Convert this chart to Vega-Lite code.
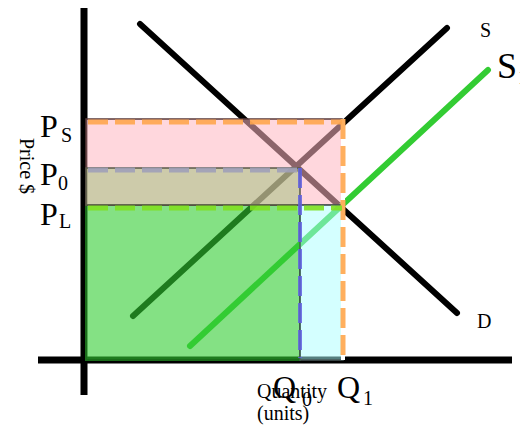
{
  "$schema": "https://vega.github.io/schema/vega-lite/v6.json",
  "width": 520,
  "height": 430,
  "padding": 0,
  "autosize": {"type": "fit", "contains": "padding"},
  "config": {"view": {"stroke": null}, "font": "Liberation Serif"},
  "layer": [
    {
      "data": {"values": [
        {"q": 84, "p": 422, "q2": 84, "p2": 35},
        {"q": 38, "p": 70, "q2": 512, "p2": 70}
      ]},
      "mark": {"type": "rule", "strokeWidth": 7, "color": "black"},
      "encoding": {
        "x": {"field": "q", "type": "quantitative", "scale": {"domain": [0, 520], "nice": false, "zero": false}, "axis": null},
        "x2": {"field": "q2"},
        "y": {"field": "p", "type": "quantitative", "scale": {"domain": [0, 430], "nice": false, "zero": false}, "axis": null},
        "y2": {"field": "p2"}
      }
    },
    {
      "data": {"values": [
        {"curve": "S", "q": 133, "p": 114, "q2": 447, "p2": 402},
        {"curve": "D", "q": 140, "p": 406, "q2": 457, "p2": 117}
      ]},
      "mark": {"type": "rule", "strokeWidth": 6, "color": "black", "strokeCap": "round"},
      "encoding": {
        "x": {"field": "q", "type": "quantitative"},
        "x2": {"field": "q2"},
        "y": {"field": "p", "type": "quantitative"},
        "y2": {"field": "p2"}
      }
    },
    {
      "data": {"values": [{"q": 86, "q2": 300, "p": 225, "p2": 70}]},
      "mark": {"type": "rect", "fill": "#32CD32", "fillOpacity": 0.6, "stroke": "#1a6b1a", "strokeWidth": 2},
      "encoding": {
        "x": {"field": "q", "type": "quantitative"},
        "x2": {"field": "q2"},
        "y": {"field": "p", "type": "quantitative"},
        "y2": {"field": "p2"}
      }
    },
    {
      "data": {"values": [{"curve": "S1", "q": 190, "p": 84, "q2": 488, "p2": 360}]},
      "mark": {"type": "rule", "strokeWidth": 6, "color": "#33CC33", "strokeCap": "round"},
      "encoding": {
        "x": {"field": "q", "type": "quantitative"},
        "x2": {"field": "q2"},
        "y": {"field": "p", "type": "quantitative"},
        "y2": {"field": "p2"}
      }
    },
    {
      "data": {"values": [{"q": 86, "q2": 342, "p": 311, "p2": 225}]},
      "mark": {"type": "rect", "fill": "#FFB6C1", "fillOpacity": 0.55, "stroke": "#5a3a3a", "strokeWidth": 1.5},
      "encoding": {
        "x": {"field": "q", "type": "quantitative"},
        "x2": {"field": "q2"},
        "y": {"field": "p", "type": "quantitative"},
        "y2": {"field": "p2"}
      }
    },
    {
      "data": {"values": [{"q": 86, "q2": 300, "p": 262, "p2": 225}]},
      "mark": {"type": "rect", "fill": "#9BBF77", "fillOpacity": 0.5, "stroke": "#5a5a4a", "strokeWidth": 1.5},
      "encoding": {
        "x": {"field": "q", "type": "quantitative"},
        "x2": {"field": "q2"},
        "y": {"field": "p", "type": "quantitative"},
        "y2": {"field": "p2"}
      }
    },
    {
      "data": {"values": [{"q": 300, "q2": 343, "p": 225, "p2": 70}]},
      "mark": {"type": "rect", "fill": "#AAFFFF", "fillOpacity": 0.5, "stroke": "#4a5a5a", "strokeWidth": 1.5},
      "encoding": {
        "x": {"field": "q", "type": "quantitative"},
        "x2": {"field": "q2"},
        "y": {"field": "p", "type": "quantitative"},
        "y2": {"field": "p2"}
      }
    },
    {
      "data": {"values": [{"q": 343, "p": 311, "q2": 343, "p2": 70}]},
      "mark": {"type": "rule", "strokeWidth": 4, "color": "white"},
      "encoding": {
        "x": {"field": "q", "type": "quantitative"},
        "x2": {"field": "q2"},
        "y": {"field": "p", "type": "quantitative"},
        "y2": {"field": "p2"}
      }
    },
    {
      "data": {"values": [
        {"q": 88, "p": 308, "q2": 342, "p2": 308},
        {"q": 343, "p": 311, "q2": 343, "p2": 70}
      ]},
      "mark": {"type": "rule", "strokeWidth": 5, "color": "#FFA64D", "strokeDash": [20, 7], "opacity": 0.9},
      "encoding": {
        "x": {"field": "q", "type": "quantitative"},
        "x2": {"field": "q2"},
        "y": {"field": "p", "type": "quantitative"},
        "y2": {"field": "p2"}
      }
    },
    {
      "data": {"values": [{"q": 88, "p": 260, "q2": 300, "p2": 260}]},
      "mark": {"type": "rule", "strokeWidth": 5, "color": "#A0A0B8", "strokeDash": [20, 7], "opacity": 0.9},
      "encoding": {
        "x": {"field": "q", "type": "quantitative"},
        "x2": {"field": "q2"},
        "y": {"field": "p", "type": "quantitative"},
        "y2": {"field": "p2"}
      }
    },
    {
      "data": {"values": [{"q": 88, "p": 222, "q2": 342, "p2": 222}]},
      "mark": {"type": "rule", "strokeWidth": 5, "color": "#80E020", "strokeDash": [20, 7], "opacity": 0.9},
      "encoding": {
        "x": {"field": "q", "type": "quantitative"},
        "x2": {"field": "q2"},
        "y": {"field": "p", "type": "quantitative"},
        "y2": {"field": "p2"}
      }
    },
    {
      "data": {"values": [{"q": 300, "p": 262, "q2": 300, "p2": 72}]},
      "mark": {"type": "rule", "strokeWidth": 4, "color": "#6060E0", "strokeDash": [20, 7], "opacity": 0.85},
      "encoding": {
        "x": {"field": "q", "type": "quantitative"},
        "x2": {"field": "q2"},
        "y": {"field": "p", "type": "quantitative"},
        "y2": {"field": "p2"}
      }
    },
    {
      "data": {"values": [
        {"q": 40, "p": 293, "label": "P"},
        {"q": 40, "p": 245, "label": "P"},
        {"q": 40, "p": 205, "label": "P"},
        {"q": 273, "p": 32, "label": "Q"},
        {"q": 337, "p": 32, "label": "Q"}
      ]},
      "mark": {"type": "text", "fontSize": 32, "align": "left", "baseline": "alphabetic", "color": "black", "font": "Liberation Serif"},
      "encoding": {
        "x": {"field": "q", "type": "quantitative"},
        "y": {"field": "p", "type": "quantitative"},
        "text": {"field": "label"}
      }
    },
    {
      "data": {"values": [
        {"q": 61, "p": 288, "label": "S"},
        {"q": 58, "p": 240, "label": "0"},
        {"q": 59, "p": 202, "label": "L"},
        {"q": 302, "p": 24, "label": "0"},
        {"q": 363, "p": 25, "label": "1"},
        {"q": 480, "p": 393, "label": "S"},
        {"q": 477, "p": 102, "label": "D"},
        {"q": 257, "p": 32, "label": "Quantity"},
        {"q": 257, "p": 10, "label": "(units)"}
      ]},
      "mark": {"type": "text", "fontSize": 20, "align": "left", "baseline": "alphabetic", "color": "black", "font": "Liberation Serif"},
      "encoding": {
        "x": {"field": "q", "type": "quantitative"},
        "y": {"field": "p", "type": "quantitative"},
        "text": {"field": "label"}
      }
    },
    {
      "data": {"values": [{"q": 518, "p": 346, "label": "1"}]},
      "mark": {"type": "text", "fontSize": 20, "align": "left", "baseline": "alphabetic", "color": "black", "font": "Liberation Serif", "clip": true},
      "encoding": {
        "x": {"field": "q", "type": "quantitative"},
        "y": {"field": "p", "type": "quantitative"},
        "text": {"field": "label"}
      }
    },
    {
      "data": {"values": [{"q": 497, "p": 352, "label": "S"}]},
      "mark": {"type": "text", "fontSize": 36, "align": "left", "baseline": "alphabetic", "color": "black", "font": "Liberation Serif"},
      "encoding": {
        "x": {"field": "q", "type": "quantitative"},
        "y": {"field": "p", "type": "quantitative"},
        "text": {"field": "label"}
      }
    },
    {
      "data": {"values": [{"q": 26, "p": 264, "label": "Price $"}]},
      "mark": {"type": "text", "fontSize": 20, "angle": 90, "align": "center", "baseline": "middle", "color": "black", "font": "Liberation Serif"},
      "encoding": {
        "x": {"field": "q", "type": "quantitative"},
        "y": {"field": "p", "type": "quantitative"},
        "text": {"field": "label"}
      }
    }
  ]
}
